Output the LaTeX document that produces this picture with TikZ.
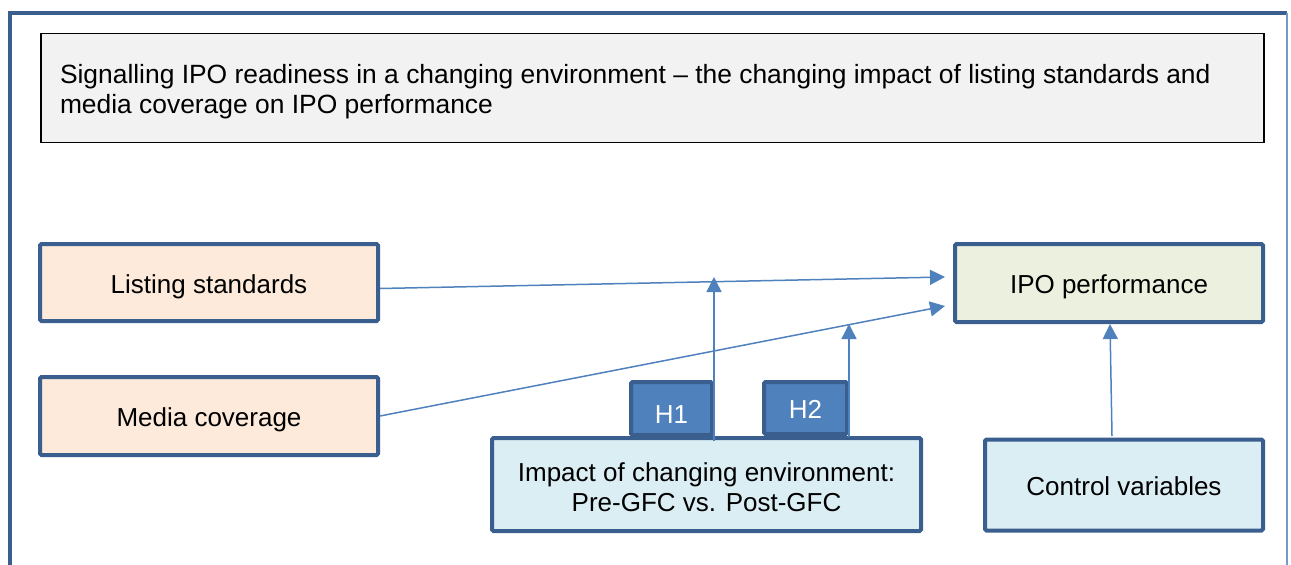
\documentclass[tikz,border=0pt]{standalone}
\usepackage{fontspec}
\setmainfont{Liberation Sans}
\usetikzlibrary{arrows.meta}
\definecolor{frameblue}{HTML}{3A5F8E}
\definecolor{lineblue}{HTML}{4F81BD}
\definecolor{peach}{HTML}{FDEADA}
\definecolor{sage}{HTML}{EBF1DE}
\definecolor{paleblue}{HTML}{DBEEF4}
\definecolor{titlegrey}{HTML}{F2F2F2}
\begin{document}
\begin{tikzpicture}[x=1pt,y=-1pt,
  every node/.style={font=\fontsize{26}{30}\selectfont, inner sep=0pt},
  varbox/.style={draw=frameblue, line width=4pt, rounded corners=1.5pt, align=center, text height=21pt, text depth=0pt},
  hbox/.style={varbox, fill=lineblue, text=white},
  arr/.style={draw=lineblue, line width=1.5pt, -{Triangle[length=15pt,width=15pt]}}]
  \useasboundingbox (0,0) rectangle (1291,565);
  % outer frame
  \draw[frameblue, line width=4pt] (10,567) -- (10,13) -- (1287,13);
  \draw[lineblue!80, line width=1.2pt] (1287,13) -- (1287,567);
  % title
  \node[draw=black, line width=1.8pt, fill=titlegrey, minimum width=1223pt, minimum height=109pt,
        font=\fontsize{26.4}{30}\selectfont, text height=26pt, text depth=35.5pt] (title) at (652.5,88)
    {\parbox[t]{1185pt}{\raggedright Signalling IPO readiness in a changing environment – the changing impact of listing standards and media coverage on IPO performance}};
  % hypothesis tabs (behind the environment box)
  \node[hbox, minimum width=81pt, minimum height=53pt] (h1) at (671.5,408.5) {\raisebox{-4pt}{H1}};
  \node[hbox, minimum width=83pt, minimum height=52pt] (h2) at (805.5,408) {H2};
  % variable boxes
  \node[varbox, fill=peach, minimum width=338pt, minimum height=77pt] (ls) at (209,282.5) {Listing standards};
  \node[varbox, fill=peach, minimum width=338pt, minimum height=78pt] (mc) at (209,416) {Media coverage};
  \node[varbox, fill=sage, minimum width=308pt, minimum height=78pt] (ipo) at (1109,283) {IPO performance};
  \node[draw=frameblue, line width=4pt, rounded corners=1.5pt, fill=paleblue, minimum width=429pt, minimum height=93pt,
        text height=33pt, text depth=39pt] (env) at (706.5,484.5)
    {\begin{tabular}[t]{@{}c@{}}Impact of changing environment:\\Pre-GFC vs. Post-GFC\end{tabular}};
  \node[varbox, fill=paleblue, minimum width=278pt, minimum height=91pt] (ctrl) at (1124,485) {Control variables};
  % connector end points
  \coordinate (lsStart) at ([yshift=-6]ls.east);
  \coordinate (lsEnd) at ([shift={(-8,-6)}]ipo.west);
  \coordinate (mcEnd) at ([shift={(-8,23)}]ipo.west);
  \coordinate (h1Start) at (714,441);
  \coordinate (h1End) at (714,277);
  \coordinate (h2Start) at (849,437);
  \coordinate (h2End) at (849,324);
  \coordinate (ctrlStart) at (1112,436);
  \coordinate (ctrlEnd) at (1110,324);
  % connectors
  \draw[arr] (lsStart) -- (lsEnd);
  \draw[arr] (mc.east) -- (mcEnd);
  \draw[arr] (h1Start) -- (h1End);
  \draw[arr] (h2Start) -- (h2End);
  \draw[arr] (ctrlStart) -- (ctrlEnd);
\end{tikzpicture}
\end{document}
